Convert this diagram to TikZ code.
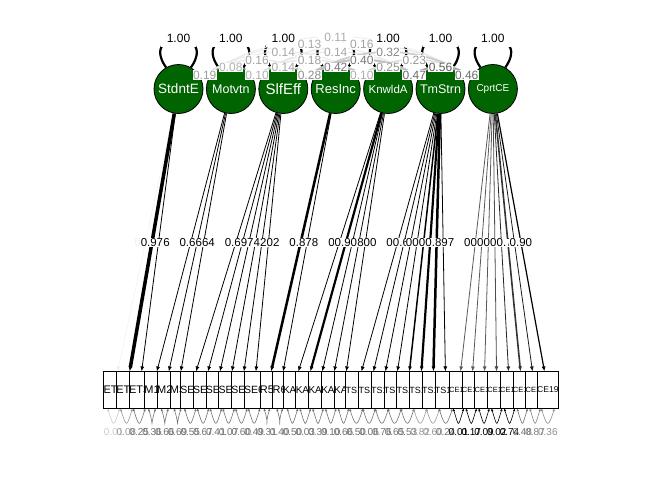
\documentclass[tikz,border=0pt]{standalone}
\usepackage{fontspec}
\setmainfont{Liberation Sans}
\usetikzlibrary{arrows.meta}
\definecolor{latgreen}{RGB}{0,100,0}
% weakest first, as the strongest are drawn on top
\def\covs{StdntE/SlfEff/0.08, StdntE/CprtCE/0.11, Motvtn/SlfEff/0.10, ResInc/KnwldA/0.10,
  StdntE/TmStrn/0.13, StdntE/KnwldA/0.14, Motvtn/ResInc/0.14, Motvtn/TmStrn/0.14,
  StdntE/ResInc/0.16, Motvtn/CprtCE/0.16, Motvtn/KnwldA/0.18, StdntE/Motvtn/0.19,
  ResInc/CprtCE/0.23, ResInc/TmStrn/0.25, SlfEff/ResInc/0.28, SlfEff/CprtCE/0.32,
  SlfEff/TmStrn/0.40, SlfEff/KnwldA/0.42, TmStrn/CprtCE/0.46, KnwldA/TmStrn/0.47,
  KnwldA/CprtCE/0.56}
\def\loadings{StdntE/ET1/0.06/0.5pt/6, SlfEff/SE6/0.52/0.8pt/100, CprtCE/CE12/0.55/0.8pt/65,
  CprtCE/CE13/0.55/0.8pt/65, Motvtn/M2/0.56/0.8pt/100, CprtCE/CE14/0.57/0.8pt/65,
  CprtCE/CE15/0.59/0.8pt/70, SlfEff/SE5/0.60/0.8pt/100, SlfEff/SE4/0.62/0.8pt/100,
  TmStrn/TS12/0.63/0.8pt/100, Motvtn/M3/0.64/0.8pt/100, SlfEff/SE3/0.64/0.8pt/100,
  Motvtn/M1/0.66/0.8pt/100, TmStrn/TS10/0.66/0.8pt/100, TmStrn/TS11/0.66/0.8pt/100,
  SlfEff/SE2/0.67/0.8pt/100, CprtCE/CE16/0.67/0.8pt/85, TmStrn/TS13/0.68/0.8pt/100,
  SlfEff/SE1/0.69/0.8pt/100, CprtCE/CE18/0.69/0.8pt/90, KnwldA/KA1/0.70/0.8pt/100,
  KnwldA/KA5/0.70/0.8pt/100, KnwldA/KA3/0.73/0.8pt/100, StdntE/ET3/0.76/0.8pt/100,
  TmStrn/TS17/0.77/0.8pt/100, ResInc/R6/0.78/0.8pt/100, CprtCE/CE17/0.79/1.6pt/80,
  KnwldA/KA4/0.80/0.8pt/100, TmStrn/TS14/0.83/1.5pt/100, ResInc/R5/0.87/2.5pt/100,
  TmStrn/TS15/0.88/2.2pt/100, TmStrn/TS16/0.89/2.5pt/100, KnwldA/KA2/0.90/2.2pt/100,
  CprtCE/CE19/0.90/1.2pt/100, StdntE/ET2/0.97/3.5pt/100}
\def\resids{ET1/0.01/20, ET2/0.08/40, ET3/0.25/55, M1/0.36/55, M2/0.66/55, M3/0.69/55,
  SE1/0.55/55, SE2/0.67/55, SE3/0.41/55, SE4/0.07/55, SE5/0.60/55, SE6/0.49/55,
  R5/0.31/55, R6/0.40/55, KA1/0.50/55, KA2/0.03/55, KA3/0.39/55, KA4/0.10/55, KA5/0.66/55,
  TS10/0.50/55, TS11/0.06/55, TS12/0.76/55, TS13/0.65/55, TS14/0.53/55, TS15/0.82/40,
  TS16/0.60/40, TS17/0.24/55, CE12/0.01/100, CE13/0.17/100, CE14/0.09/100, CE15/0.02/100,
  CE16/0.74/100, CE17/0.48/55, CE18/0.87/50, CE19/0.36/45}
\begin{document}
\begin{tikzpicture}[x=1pt,y=-1pt,
    lat/.style={circle,draw=black,line width=0.8pt,fill=latgreen,minimum size=49pt,inner sep=0pt,text=white},
    man/.style={draw=black,line width=0.6pt,fill=white,minimum width=12.77pt,minimum height=36.5pt,inner sep=0pt},
    varloop/.style={line width=2.2pt,black},
    varlab/.style={fill=white,inner xsep=6pt,inner ysep=5pt,font=\fontsize{12}{12}\selectfont},
    cov/.style={<->,>={Latex[length=3pt,width=2.5pt]}},
    covlab/.style={fill=white,inner sep=0.5pt,font=\fontsize{12}{12}\selectfont},
    load/.style={->,>={Latex[length=5pt,width=4pt]}},
    loadlab/.style={fill=white,inner sep=0.3pt,font=\fontsize{11.5}{12}\selectfont},
    resid/.style={line width=0.6pt,<->,>={Latex[length=2.5pt,width=2.5pt]}},
    reslab/.style={inner sep=0.5pt,font=\fontsize{10}{10}\selectfont}]
\useasboundingbox (0,0) rectangle (672,480);

% latent factors
\node[lat,font=\fontsize{13.5}{14}\selectfont] (StdntE) at (178.5,89) {StdntE};
\node[lat,font=\fontsize{12.5}{13}\selectfont] (Motvtn) at (230.9,89) {Motvtn};
\node[lat,font=\fontsize{15}{15}\selectfont] (SlfEff) at (283.3,89) {SlfEff};
\node[lat,font=\fontsize{13}{13}\selectfont] (ResInc) at (335.7,89) {ResInc};
\node[lat,font=\fontsize{11.5}{12}\selectfont] (KnwldA) at (388.1,89) {KnwldA};
\node[lat,font=\fontsize{12.5}{13}\selectfont] (TmStrn) at (440.5,89) {TmStrn};
\node[lat,font=\fontsize{10}{10}\selectfont] (CprtCE) at (492.9,89) {CprtCE};

% items
\foreach \m/\s [count=\i] in {ET1/11,ET2/11,ET3/11,M1/11,M2/11,M3/11,SE1/10.5,SE2/10.5,SE3/10.5,
    SE4/10.5,SE5/10.5,SE6/10.5,R5/11,R6/11,KA1/10,KA2/10,KA3/10,KA4/10,KA5/10,TS10/9,TS11/9,TS12/9,
    TS13/9,TS14/9,TS15/9,TS16/9,TS17/9,CE12/7.5,CE13/7.5,CE14/7.5,CE15/7.5,CE16/7.5,
    CE17/7.5,CE18/7.5,CE19/8.5}
  \node[man,font=\fontsize{\s}{\s}\selectfont] (\m) at ({107.3+12.77*(\i-0.5)},390) {\m};

% variances of the factors
\foreach \l in {StdntE,Motvtn,SlfEff,ResInc,KnwldA,TmStrn,CprtCE}
  \draw[varloop] (\l.120) .. controls +(-27.5,-39.3) and +(27.5,-39.3) .. (\l.60);

% covariances
\foreach \a/\b/\v in \covs {
  \pgfmathsetmacro\cs{60*\v}
  \pgfmathsetmacro\cw{0.5+4*\v}
  \draw[cov,draw=black!\cs,line width=\cw pt] (\a) to[bend left=30] (\b);
}

% loadings
\foreach \f/\m/\v/\w/\c in \loadings
  \draw[load,draw=black!\c,line width=\w] (\f) -- (\m);

% residuals
\foreach \m/\r/\c in \resids
  \draw[resid,draw=black!\c] ([xshift=4.4pt]\m.south west) .. controls +(6,19) and +(-6,19) .. ([xshift=-4.4pt]\m.south east);

% labels
\foreach \l in {StdntE,Motvtn,SlfEff,ResInc,KnwldA,TmStrn,CprtCE}
  \path (\l.120) .. controls +(-27.5,-39.3) and +(27.5,-39.3) .. (\l.60) node[varlab,pos=.5] (v\l) {1.00};
\foreach \a/\b/\v in \covs {
  \pgfmathsetmacro\ls{25+70*\v}
  \path (\a) to[bend left=30] node[covlab,text=black!\ls] (c\a\b) {\v} (\b);
}
\foreach \f/\m/\v/\w/\c in \loadings {
  \pgfmathsetmacro\lc{\c<50 ? \c : 100}
  \path (\f) -- node[loadlab,text=black!\lc] (l\m) {\v} (\m);
}
\foreach \m/\r/\c in \resids
  \node[reslab,text=black!\c] (r\m) at ([yshift=-23pt]\m.south) {\r};
\end{tikzpicture}
\end{document}
